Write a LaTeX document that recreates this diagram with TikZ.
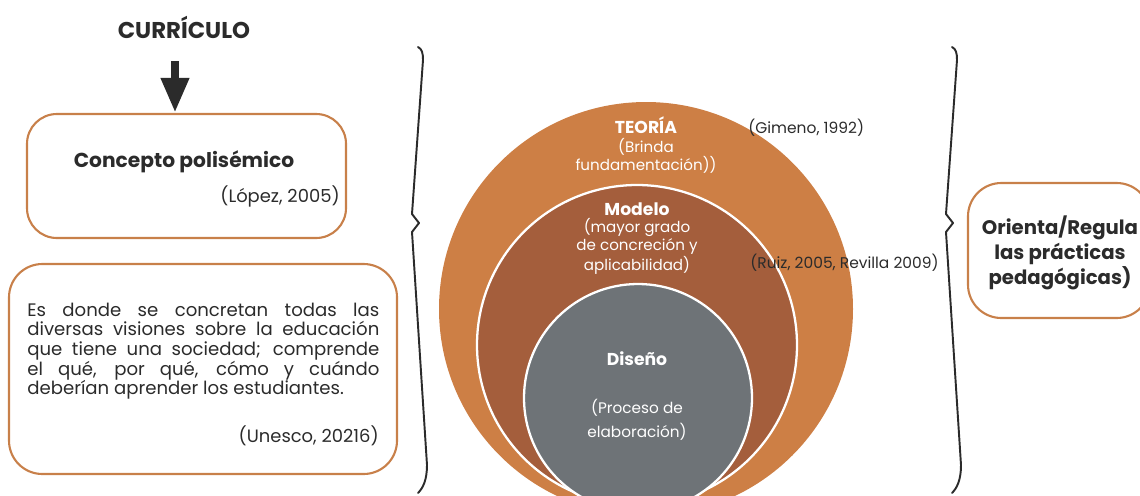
\documentclass[tikz,border=0pt]{standalone}
\usepackage{fontspec}
\setmainfont{Poppins}
\usetikzlibrary{arrows.meta}
\definecolor{orng}{HTML}{CD7F45}
\definecolor{brwn}{HTML}{A45E3C}
\definecolor{gry}{HTML}{6E7377}
\definecolor{ink}{HTML}{2B2B2B}
\definecolor{boxline}{HTML}{C8804A}
\begin{document}
\begin{tikzpicture}[x=0.02cm,y=-0.02cm,
  rbox/.style={draw=boxline, line width=1.2pt, rounded corners=17pt, inner sep=0},
  cite/.style={font=\fontsize{10.2}{12}\selectfont, text=ink, inner sep=0},
  ccite/.style={font=\fontsize{8.8}{11}\selectfont, text=ink, inner sep=0},
  wbold/.style={text=white, inner sep=0, font=\fontsize{9.8}{11}\selectfont\bfseries},
  wreg/.style={text=white, align=center, inner sep=0},
  ring/.style={circle, draw=white, line width=1.3pt, inner sep=0},
  brace/.style={line width=1.1pt, line cap=round, line join=round, draw=ink},
  heavyarrow/.style={draw=ink, line width=5pt, -{Triangle[length=20pt,width=15pt]}}
]
\useasboundingbox (0,0) rectangle (1140,495);
% title and arrow
\node[anchor=base, inner sep=0, text=ink, font=\fontsize{13}{15}\selectfont\bfseries] (title) at (184,38) {CURRÍCULO};
% box 1
\node[rbox, minimum width={319*0.02cm}, minimum height={124*0.02cm}] (box1) at (186.5,176) {};
\coordinate (a1) at (175,61);
\draw[heavyarrow] (a1) -- (a1 |- box1.north);
\node[anchor=base, inner sep=0, text=ink, font=\fontsize{11.5}{13}\selectfont\bfseries] (conc) at (184,167) {Concepto polisémico};
\node[cite, anchor=base east] (lopez) at (340,202) {(López, 2005)};
% box 2
\node[rbox, rounded corners=19pt, minimum width={388*0.02cm}, minimum height={210*0.02cm}] (box2) at (203,369) {};
\node[anchor=north west, inner sep=0, text=ink, text width={352*0.02cm}, align=justify, font=\fontsize{10.3}{11.2}\selectfont] (body) at (27,302.5)
 {\hyphenpenalty=10000 Es donde se concretan todas las\linebreak diversas visiones sobre la educación\linebreak que tiene una sociedad; comprende\linebreak el qué, por qué, cómo y cuándo\linebreak deberían aprender los estudiantes.};
\node[cite, anchor=base east] (unesco) at (379,442) {(Unesco, 20216)};
% circles
\begin{scope}
\clip (0,0) rectangle (1140,495);
\node[circle, fill=orng, inner sep=0, minimum size={414*0.02cm}] (teo) at (646,309) {};
\node[ring, fill=brwn, minimum size={320*0.02cm}] (mod) at (637,345) {};
\node[ring, fill=gry, minimum size={228*0.02cm}] (dis) at (638,398) {};
\node[rbox, rounded corners=19pt, minimum width={182*0.02cm}, minimum height={135*0.02cm}] (rbox) at (1059,250.5) {};
\end{scope}
\node[wbold, anchor=base] (teot) at (646,133) {TEORÍA};
\node[wreg, anchor=base, font=\fontsize{8.6}{10.2}\selectfont] (teod) at (646,170) {(Brinda\\fundamentación))};
\node[wbold, anchor=base] (modt) at (637,215) {Modelo};
\node[wreg, anchor=base, font=\fontsize{8.6}{10.1}\selectfont] (modd) at (637,270) {(mayor grado\\de concreción y\\aplicabilidad)};
\node[wbold, anchor=base] (dist) at (637,365) {Diseño};
\node[wreg, anchor=base, font=\fontsize{8.7}{13.6}\selectfont] (disd) at (637,437) {(Proceso de\\elaboración)};
\node[ccite, anchor=base west] (gimeno) at (748,133) {(Gimeno, 1992)};
\node[ccite, anchor=base west] (ruiz) at (750,268) {(Ruiz, 2005, Revilla 2009)};
% right box text
\node[anchor=base, inner sep=0, align=center, text=ink, font=\fontsize{11.2}{14.2}\selectfont\bfseries] (orient) at (1060,284) {Orienta/Regula\\las prácticas\\pedagógicas)};
% braces
\coordinate (lb1) at (418,47);
\coordinate (lb2) at (419,223);
\coordinate (lb3) at (418,493);
\draw[brace] (lb1) .. controls (422,49) and (423,53) .. (423,60)
  -- (412,214) -- (lb2) -- (412,232)
  -- (427,465) .. controls (427,480) and (423,488) .. (lb3);
\coordinate (rb1) at (952,47);
\coordinate (rb2) at (953,223);
\coordinate (rb3) at (952,493);
\draw[brace] (rb1) .. controls (956,49) and (957,53) .. (957,60)
  -- (946,214) -- (rb2) -- (946,232)
  -- (961,465) .. controls (961,480) and (957,488) .. (rb3);
\end{tikzpicture}
\end{document}
